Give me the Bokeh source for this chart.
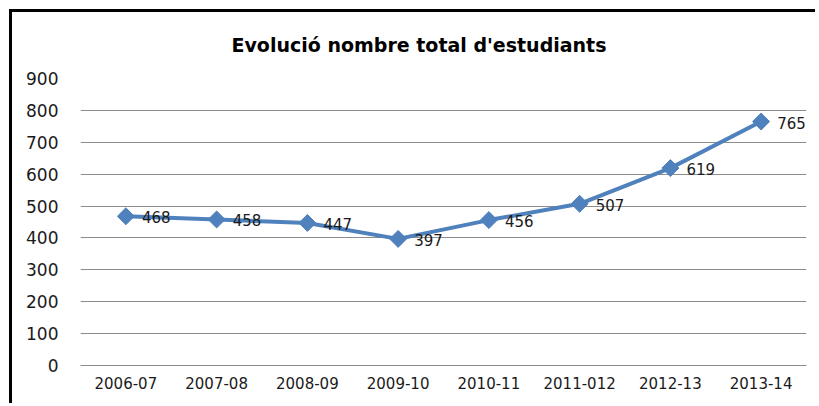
from bokeh.plotting import figure
from bokeh.models import ColumnDataSource, FactorRange, Range1d, LabelSet, Title, FixedTicker
from bokeh.core.properties import value
from bokeh.embed import file_html
from bokeh.resources import INLINE
import numpy as np

categories = ["2006-07", "2007-08", "2008-09", "2009-10", "2010-11", "2011-012", "2012-13", "2013-14"]
students = [468, 458, 447, 397, 456, 507, 619, 765]
y_ticks = [0, 100, 200, 300, 400, 500, 600, 700, 800, 900]
title_text = "Evolució nombre total d'estudiants"

source = ColumnDataSource(data=dict(x=categories, y=students, lbl=[str(v) for v in students]))

p = figure(width=806, height=394, output_backend="svg", toolbar_location=None,
           x_range=FactorRange(*categories), y_range=Range1d(0, 900),
           min_border_left=68, min_border_right=12, min_border_top=66, min_border_bottom=41)
p.styles = {"border-left": "3px solid black", "border-top": "3px solid black",
            "margin-left": "9px", "margin-top": "9px"}
p.background_fill_color = "white"
p.border_fill_color = "white"
p.outline_line_color = None

t = Title(text=title_text, align="left", offset=151, standoff=41, vertical_align="top",
          text_font="DejaVu Sans", text_font_style="bold", text_font_size="19px",
          text_color="#000000")
p.title = t

p.line("x", "y", source=source, line_color="#4F81BD", line_width=4)
p.scatter("x", "y", source=source, marker="square", angle=np.pi / 4, size=12,
          fill_color="#4F81BD", line_color="#4F81BD")

labels = LabelSet(x="x", y="y", text="lbl", source=source, x_offset=16, y_offset=-1,
                  text_align="left", text_baseline="middle", text_font=value("DejaVu Sans"),
                  text_font_size=value("15px"), text_color="#1a1a1a")
p.add_layout(labels)

p.yaxis.ticker = FixedTicker(ticks=y_ticks)
p.yaxis.axis_line_color = None
p.yaxis.major_tick_line_color = None
p.yaxis.minor_tick_line_color = None
p.yaxis.major_tick_out = 0
p.yaxis.major_tick_in = 0
p.yaxis.major_label_standoff = 22
p.yaxis.major_label_text_font = "DejaVu Sans"
p.yaxis.major_label_text_font_size = "17px"
p.yaxis.major_label_text_color = "#1a1a1a"

p.xaxis.axis_line_color = "#8c8c8c"
p.xaxis.major_tick_line_color = None
p.xaxis.minor_tick_line_color = None
p.xaxis.major_tick_out = 0
p.xaxis.major_tick_in = 0
p.xaxis.major_label_standoff = 11
p.xaxis.major_label_text_font = "DejaVu Sans"
p.xaxis.major_label_text_font_size = "15px"
p.xaxis.major_label_text_color = "#1a1a1a"

p.xgrid.grid_line_color = None
p.ygrid.grid_line_color = "#8c8c8c"
p.ygrid.grid_line_width = 1

open("out.html", "w").write(file_html(p, INLINE))
